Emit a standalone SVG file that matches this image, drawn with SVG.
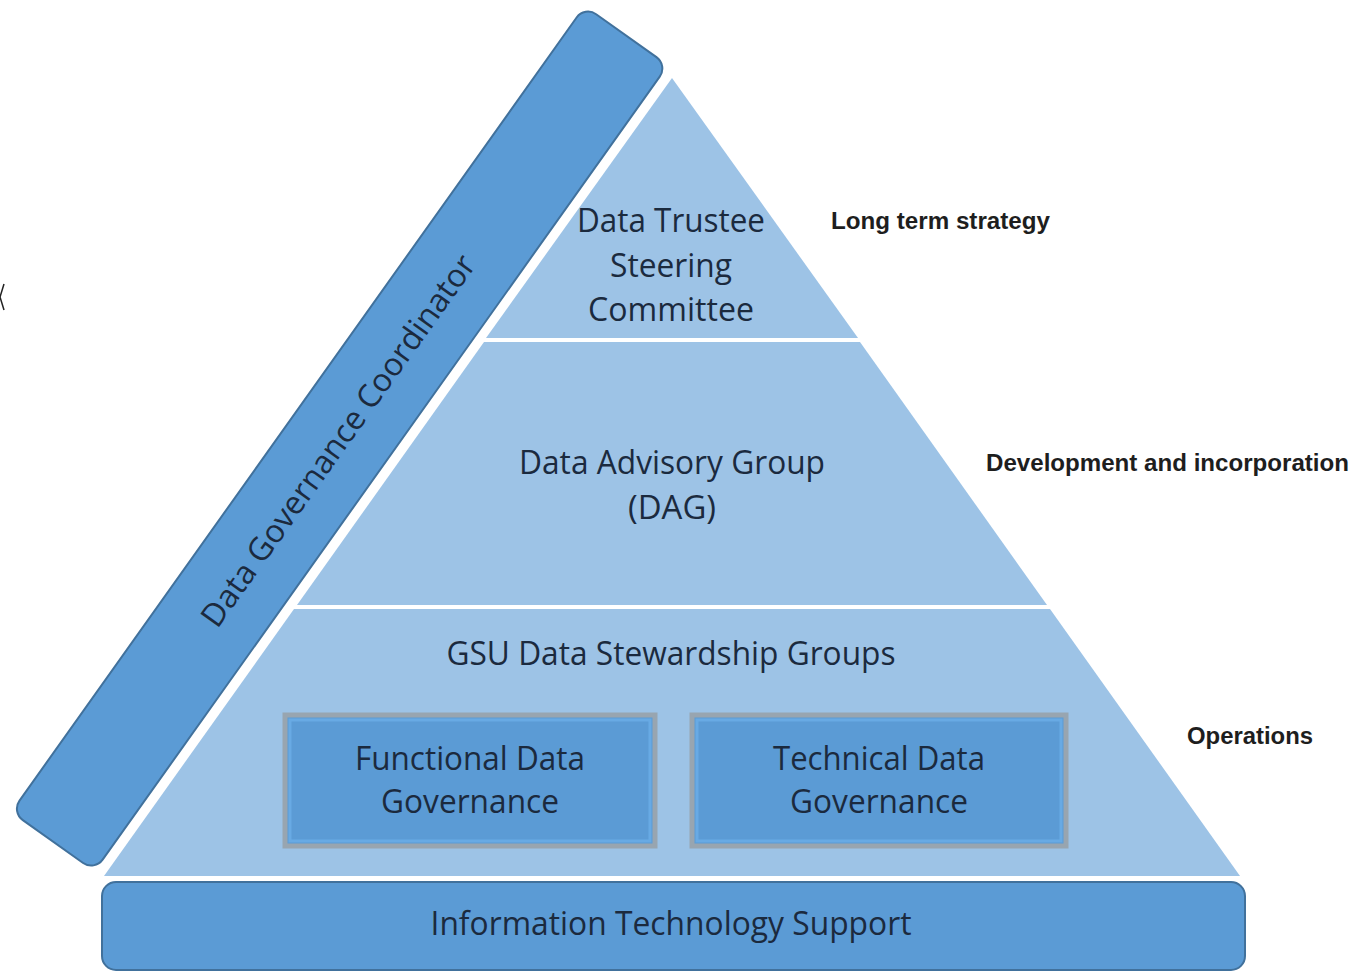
<svg xmlns="http://www.w3.org/2000/svg" width="1360" height="974" viewBox="0 0 1360 974">
  <style>
    .tier { fill: #9DC3E6; }
    .band { fill: #5B9BD5; stroke: #41719C; stroke-width: 2; }
    .box { fill: #5B9BD5; stroke: #98A5B0; stroke-width: 5; }
    .box-inner { fill: none; stroke: #68AAE4; stroke-width: 3; }
    .lbl { font-family: "Open Sans", "Liberation Sans", sans-serif; font-size: 32px; fill: #1B2A3E; text-anchor: middle; }
    .side { font-family: "Liberation Sans", Arial, sans-serif; font-weight: bold; font-size: 23px; fill: #1E1E1E; }
  </style>

  <rect width="1360" height="974" fill="#FFFFFF"/>

  <!-- small edge mark -->
  <path d="M4,284 L0,297 L4,310" fill="none" stroke="#222" stroke-width="1.5"/>

  <!-- pyramid tiers -->
  <g id="tier-steering">
    <polygon class="tier" points="672,78 858,338 486,338"/>
    <text class="lbl" x="671" y="232" textLength="188" lengthAdjust="spacingAndGlyphs">Data Trustee</text>
    <text class="lbl" x="671" y="277" textLength="122" lengthAdjust="spacingAndGlyphs">Steering</text>
    <text class="lbl" x="671" y="321" textLength="166" lengthAdjust="spacingAndGlyphs">Committee</text>
  </g>

  <g id="tier-advisory">
    <polygon class="tier" points="484,342 860,342 1047,605 297,605"/>
    <text class="lbl" x="672" y="474" textLength="306" lengthAdjust="spacingAndGlyphs">Data Advisory Group</text>
    <text class="lbl" x="672" y="519" textLength="88" lengthAdjust="spacingAndGlyphs">(DAG)</text>
  </g>

  <g id="tier-stewardship">
    <polygon class="tier" points="294,609 1050,609 1240,876 104,876"/>
    <text class="lbl" x="671" y="665" textLength="449" lengthAdjust="spacingAndGlyphs">GSU Data Stewardship Groups</text>
  </g>

  <g id="functional-governance">
    <rect class="box" x="285" y="715" width="370" height="131"/>
    <rect class="box-inner" x="290" y="720" width="360" height="121"/>
    <text class="lbl" x="470" y="770" textLength="230" lengthAdjust="spacingAndGlyphs">Functional Data</text>
    <text class="lbl" x="470" y="813" textLength="178" lengthAdjust="spacingAndGlyphs">Governance</text>
  </g>

  <g id="technical-governance">
    <rect class="box" x="692" y="715" width="374" height="131"/>
    <rect class="box-inner" x="697" y="720" width="364" height="121"/>
    <text class="lbl" x="879" y="770" textLength="212" lengthAdjust="spacingAndGlyphs">Technical Data</text>
    <text class="lbl" x="879" y="813" textLength="178" lengthAdjust="spacingAndGlyphs">Governance</text>
  </g>

  <!-- base support bar -->
  <g id="it-support">
    <rect class="band" x="102" y="882" width="1143" height="88" rx="14"/>
    <text class="lbl" x="671" y="935" textLength="481" lengthAdjust="spacingAndGlyphs">Information Technology Support</text>
  </g>

  <!-- coordinator bar running along the left side -->
  <g id="coordinator" transform="rotate(-54.57)">
    <rect class="band" x="-655" y="480" width="989" height="102" rx="14"/>
    <text class="lbl" x="-163" y="542" textLength="448" lengthAdjust="spacingAndGlyphs">Data Governance Coordinator</text>
  </g>

  <!-- tier descriptions -->
  <g id="desc-long-term">
    <text class="side" x="831" y="229" textLength="219" lengthAdjust="spacingAndGlyphs">Long term strategy</text>
  </g>
  <g id="desc-development">
    <text class="side" x="986" y="471" textLength="363" lengthAdjust="spacingAndGlyphs">Development and incorporation</text>
  </g>
  <g id="desc-operations">
    <text class="side" x="1187" y="744" textLength="126" lengthAdjust="spacingAndGlyphs">Operations</text>
  </g>

  <g id="connectors"></g>
</svg>
